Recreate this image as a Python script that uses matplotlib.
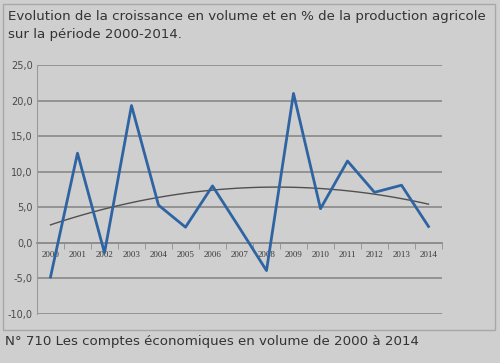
import matplotlib
matplotlib.use('Agg')
import matplotlib.pyplot as plt
from matplotlib.patches import Rectangle
import numpy as np

years = ['2000', '2001', '2002', '2003', '2004', '2005', '2006', '2007',
         '2008', '2009', '2010', '2011', '2012', '2013', '2014']
growth = [-4.8, 12.6, -1.4, 19.3, 5.3, 2.2, 8.0, 2.1,
          -3.9, 21.0, 4.8, 11.5, 7.1, 8.1, 2.3]
y_ticks = [-10, -5, 0, 5, 10, 15, 20, 25]
y_labels = ['-10,0', '-5,0', '0,0', '5,0', '10,0', '15,0', '20,0', '25,0']

title = ("Evolution de la croissance en volume et en % de la production agricole\n"
         "sur la période 2000-2014.")
footer = "N° 710 Les comptes économiques en volume de 2000 à 2014"

bg = '#cfcfcf'
fig = plt.figure(figsize=(5, 3.63), dpi=100, facecolor=bg)
fig.patches.append(Rectangle((0.006, 0.09), 0.984, 0.9, transform=fig.transFigure,
                             fill=False, edgecolor='#a8a8a8', lw=1.0))

ax = fig.add_axes([0.074, 0.135, 0.81, 0.686])
ax.set_facecolor(bg)

x = np.arange(len(years))
# polynomial trend (order 2), like the spreadsheet trendline
coef = np.polyfit(x, growth, 2)
xt = np.linspace(0, len(years) - 1, 100)
ax.plot(xt, np.polyval(coef, xt), color='#505050', lw=1.0, zorder=3)
ax.plot(x, growth, color='#2f64a2', lw=2.0, zorder=4)

ax.set_xlim(-0.5, len(years) - 0.5)
ax.set_ylim(-10, 25)
ax.set_yticks(y_ticks)
ax.set_yticklabels(y_labels, fontsize=7, color='#4a4a4a')
ax.yaxis.grid(True, color='#8e8e8e', lw=1.3)
ax.set_axisbelow(True)

ax.spines['bottom'].set_position(('data', 0))
ax.spines['bottom'].set_color('#8e8e8e')
ax.spines['bottom'].set_linewidth(1.3)
ax.spines['left'].set_color('#9a9a9a')
ax.spines['top'].set_visible(False)
ax.spines['right'].set_visible(False)

ax.set_xticks(x)
ax.set_xticklabels(years, fontsize=6.5, family='Liberation Serif', color='#3a3a3a')
ax.set_xticks(np.arange(-0.5, len(years), 1), minor=True)
ax.tick_params(axis='x', which='major', length=0, pad=6)
ax.tick_params(axis='x', which='minor', length=4, color='#8e8e8e')
ax.tick_params(axis='y', length=0, pad=3)

fig.text(0.016, 0.972, title, fontsize=9.6, color='#333333', va='top',
         family='DejaVu Sans', linespacing=1.5)
fig.text(0.01, 0.06, footer, fontsize=9.6, color='#333333', va='center',
         family='DejaVu Sans')

fig.savefig('out.png', dpi=100, facecolor=bg)
